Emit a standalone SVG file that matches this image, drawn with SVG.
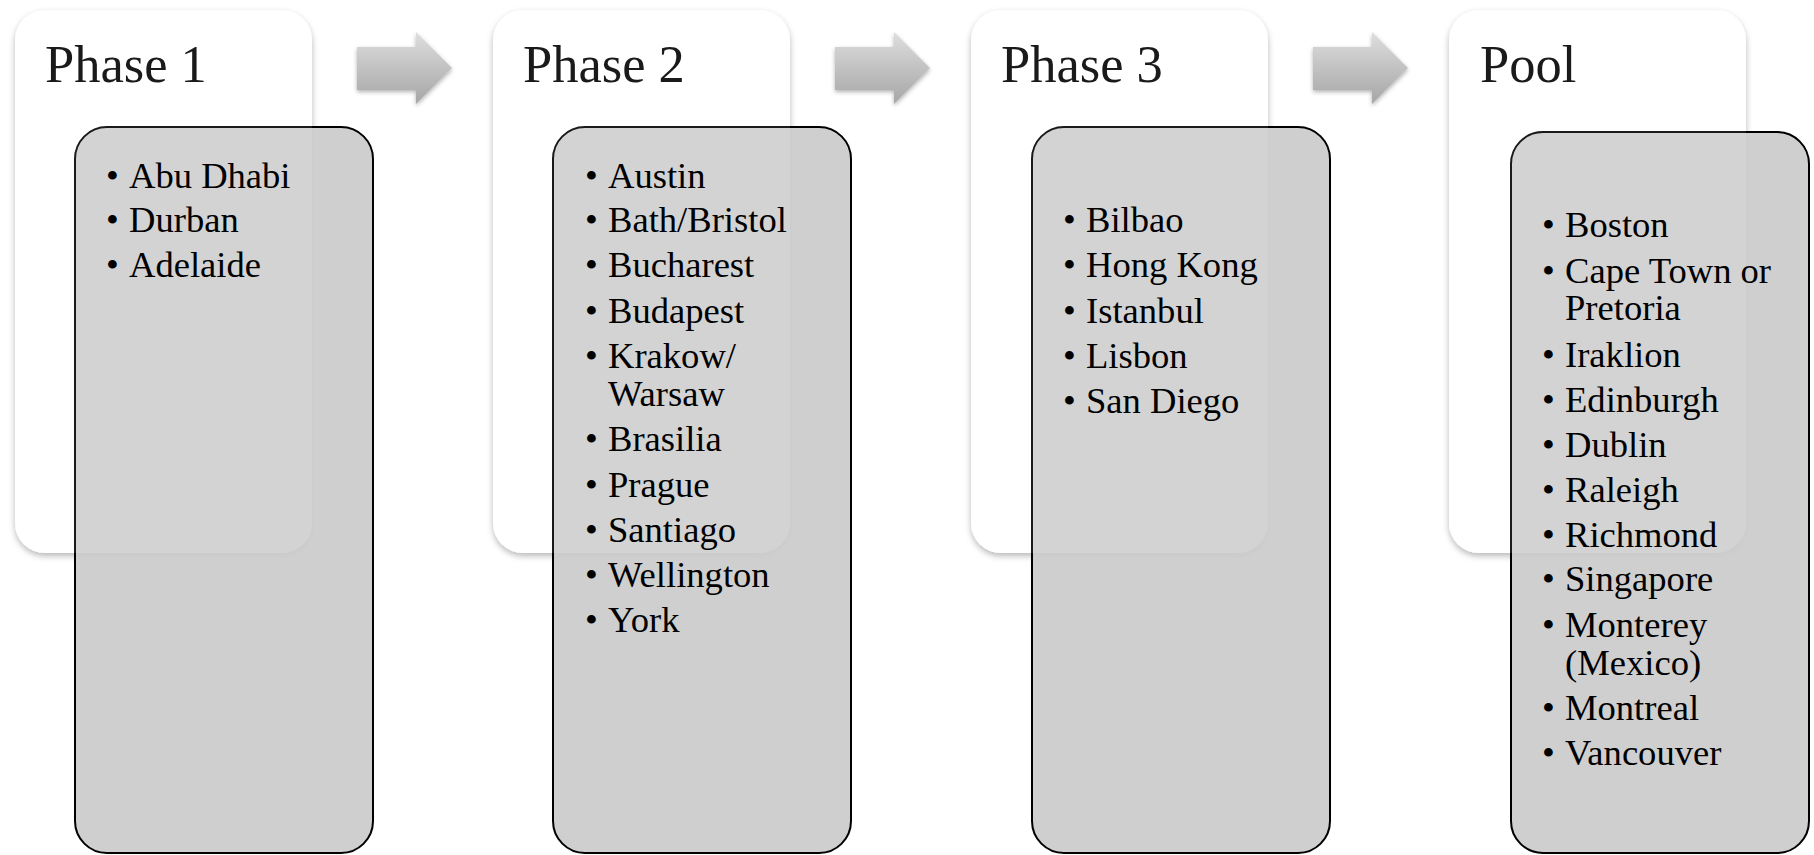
<svg xmlns="http://www.w3.org/2000/svg" width="1814" height="855" viewBox="0 0 1814 855">
<defs>
<filter id="cardShadow" x="-10%" y="-10%" width="120%" height="120%">
<feDropShadow dx="0" dy="3" stdDeviation="3" flood-color="#000" flood-opacity="0.28"/>
</filter>
<filter id="arrowShadow" x="-20%" y="-20%" width="140%" height="150%">
<feDropShadow dx="0" dy="2" stdDeviation="2" flood-color="#000" flood-opacity="0.3"/>
</filter>
<linearGradient id="arrowGrad" x1="0" y1="0" x2="0" y2="1">
<stop offset="0" stop-color="#dedede"/>
<stop offset="1" stop-color="#a6a6a6"/>
</linearGradient>
</defs>
<style>
.card{fill:#ffffff;filter:url(#cardShadow)}
.veil{fill:#ffffff;fill-opacity:0.1}
.box{fill:#cbcbcb;fill-opacity:0.93;stroke:#000;stroke-width:2}
.title{font-family:"Liberation Serif","Times New Roman",serif;font-size:52.5px;fill:#000}
.item{font-family:"Liberation Serif","Times New Roman",serif;font-size:36.6px;fill:#000}
.arrow{fill:url(#arrowGrad);filter:url(#arrowShadow)}
</style>
<rect width="1814" height="855" fill="#ffffff"/>

<g id="connectors">
<path class="arrow" d="M357,47 H416 V32 L452,68 L416,104 V90 H357 Z"/>
<path class="arrow" d="M835,47 H894 V32 L930,68 L894,104 V90 H835 Z"/>
<path class="arrow" d="M1313,47 H1372 V32 L1408,68 L1372,104 V90 H1313 Z"/>
</g>

<g id="phase1">
<rect class="card" x="15" y="10" width="297" height="543" rx="30"/>
<text class="title" x="45" y="82">Phase 1</text>
<rect class="box" x="75" y="127" width="298" height="726" rx="32"/>
<rect class="veil" x="15" y="10" width="297" height="543" rx="30"/>
<g class="item">
<text x="106" y="188">•</text><text x="129" y="188">Abu Dhabi</text>
<text x="106" y="232">•</text><text x="129" y="232">Durban</text>
<text x="106" y="277">•</text><text x="129" y="277">Adelaide</text>
</g>
</g>

<g id="phase2">
<rect class="card" x="493" y="10" width="297" height="543" rx="30"/>
<text class="title" x="523" y="82">Phase 2</text>
<rect class="box" x="553" y="127" width="298" height="726" rx="32"/>
<rect class="veil" x="493" y="10" width="297" height="543" rx="30"/>
<g class="item">
<text x="585" y="188">•</text><text x="608" y="188">Austin</text>
<text x="585" y="232">•</text><text x="608" y="232">Bath/Bristol</text>
<text x="585" y="277">•</text><text x="608" y="277">Bucharest</text>
<text x="585" y="323">•</text><text x="608" y="323">Budapest</text>
<text x="585" y="368">•</text><text x="608" y="368">Krakow/</text>
<text x="608" y="406">Warsaw</text>
<text x="585" y="451">•</text><text x="608" y="451">Brasilia</text>
<text x="585" y="497">•</text><text x="608" y="497">Prague</text>
<text x="585" y="542">•</text><text x="608" y="542">Santiago</text>
<text x="585" y="587">•</text><text x="608" y="587">Wellington</text>
<text x="585" y="632">•</text><text x="608" y="632">York</text>
</g>
</g>

<g id="phase3">
<rect class="card" x="971" y="10" width="297" height="543" rx="30"/>
<text class="title" x="1001" y="82">Phase 3</text>
<rect class="box" x="1032" y="127" width="298" height="726" rx="32"/>
<rect class="veil" x="971" y="10" width="297" height="543" rx="30"/>
<g class="item">
<text x="1063" y="232">•</text><text x="1086" y="232">Bilbao</text>
<text x="1063" y="277">•</text><text x="1086" y="277">Hong Kong</text>
<text x="1063" y="323">•</text><text x="1086" y="323">Istanbul</text>
<text x="1063" y="368">•</text><text x="1086" y="368">Lisbon</text>
<text x="1063" y="413">•</text><text x="1086" y="413">San Diego</text>
</g>
</g>

<g id="pool">
<rect class="card" x="1449" y="10" width="297" height="543" rx="30"/>
<text class="title" x="1480" y="82">Pool</text>
<rect class="box" x="1511" y="132" width="298" height="721" rx="32"/>
<rect class="veil" x="1449" y="10" width="297" height="543" rx="30"/>
<g class="item">
<text x="1542" y="237">•</text><text x="1565" y="237">Boston</text>
<text x="1542" y="283">•</text><text x="1565" y="283">Cape Town or</text>
<text x="1565" y="320">Pretoria</text>
<text x="1542" y="367">•</text><text x="1565" y="367">Iraklion</text>
<text x="1542" y="412">•</text><text x="1565" y="412">Edinburgh</text>
<text x="1542" y="457">•</text><text x="1565" y="457">Dublin</text>
<text x="1542" y="502">•</text><text x="1565" y="502">Raleigh</text>
<text x="1542" y="547">•</text><text x="1565" y="547">Richmond</text>
<text x="1542" y="591">•</text><text x="1565" y="591">Singapore</text>
<text x="1542" y="637">•</text><text x="1565" y="637">Monterey</text>
<text x="1565" y="675">(Mexico)</text>
<text x="1542" y="720">•</text><text x="1565" y="720">Montreal</text>
<text x="1542" y="765">•</text><text x="1565" y="765">Vancouver</text>
</g>
</g>
</svg>
